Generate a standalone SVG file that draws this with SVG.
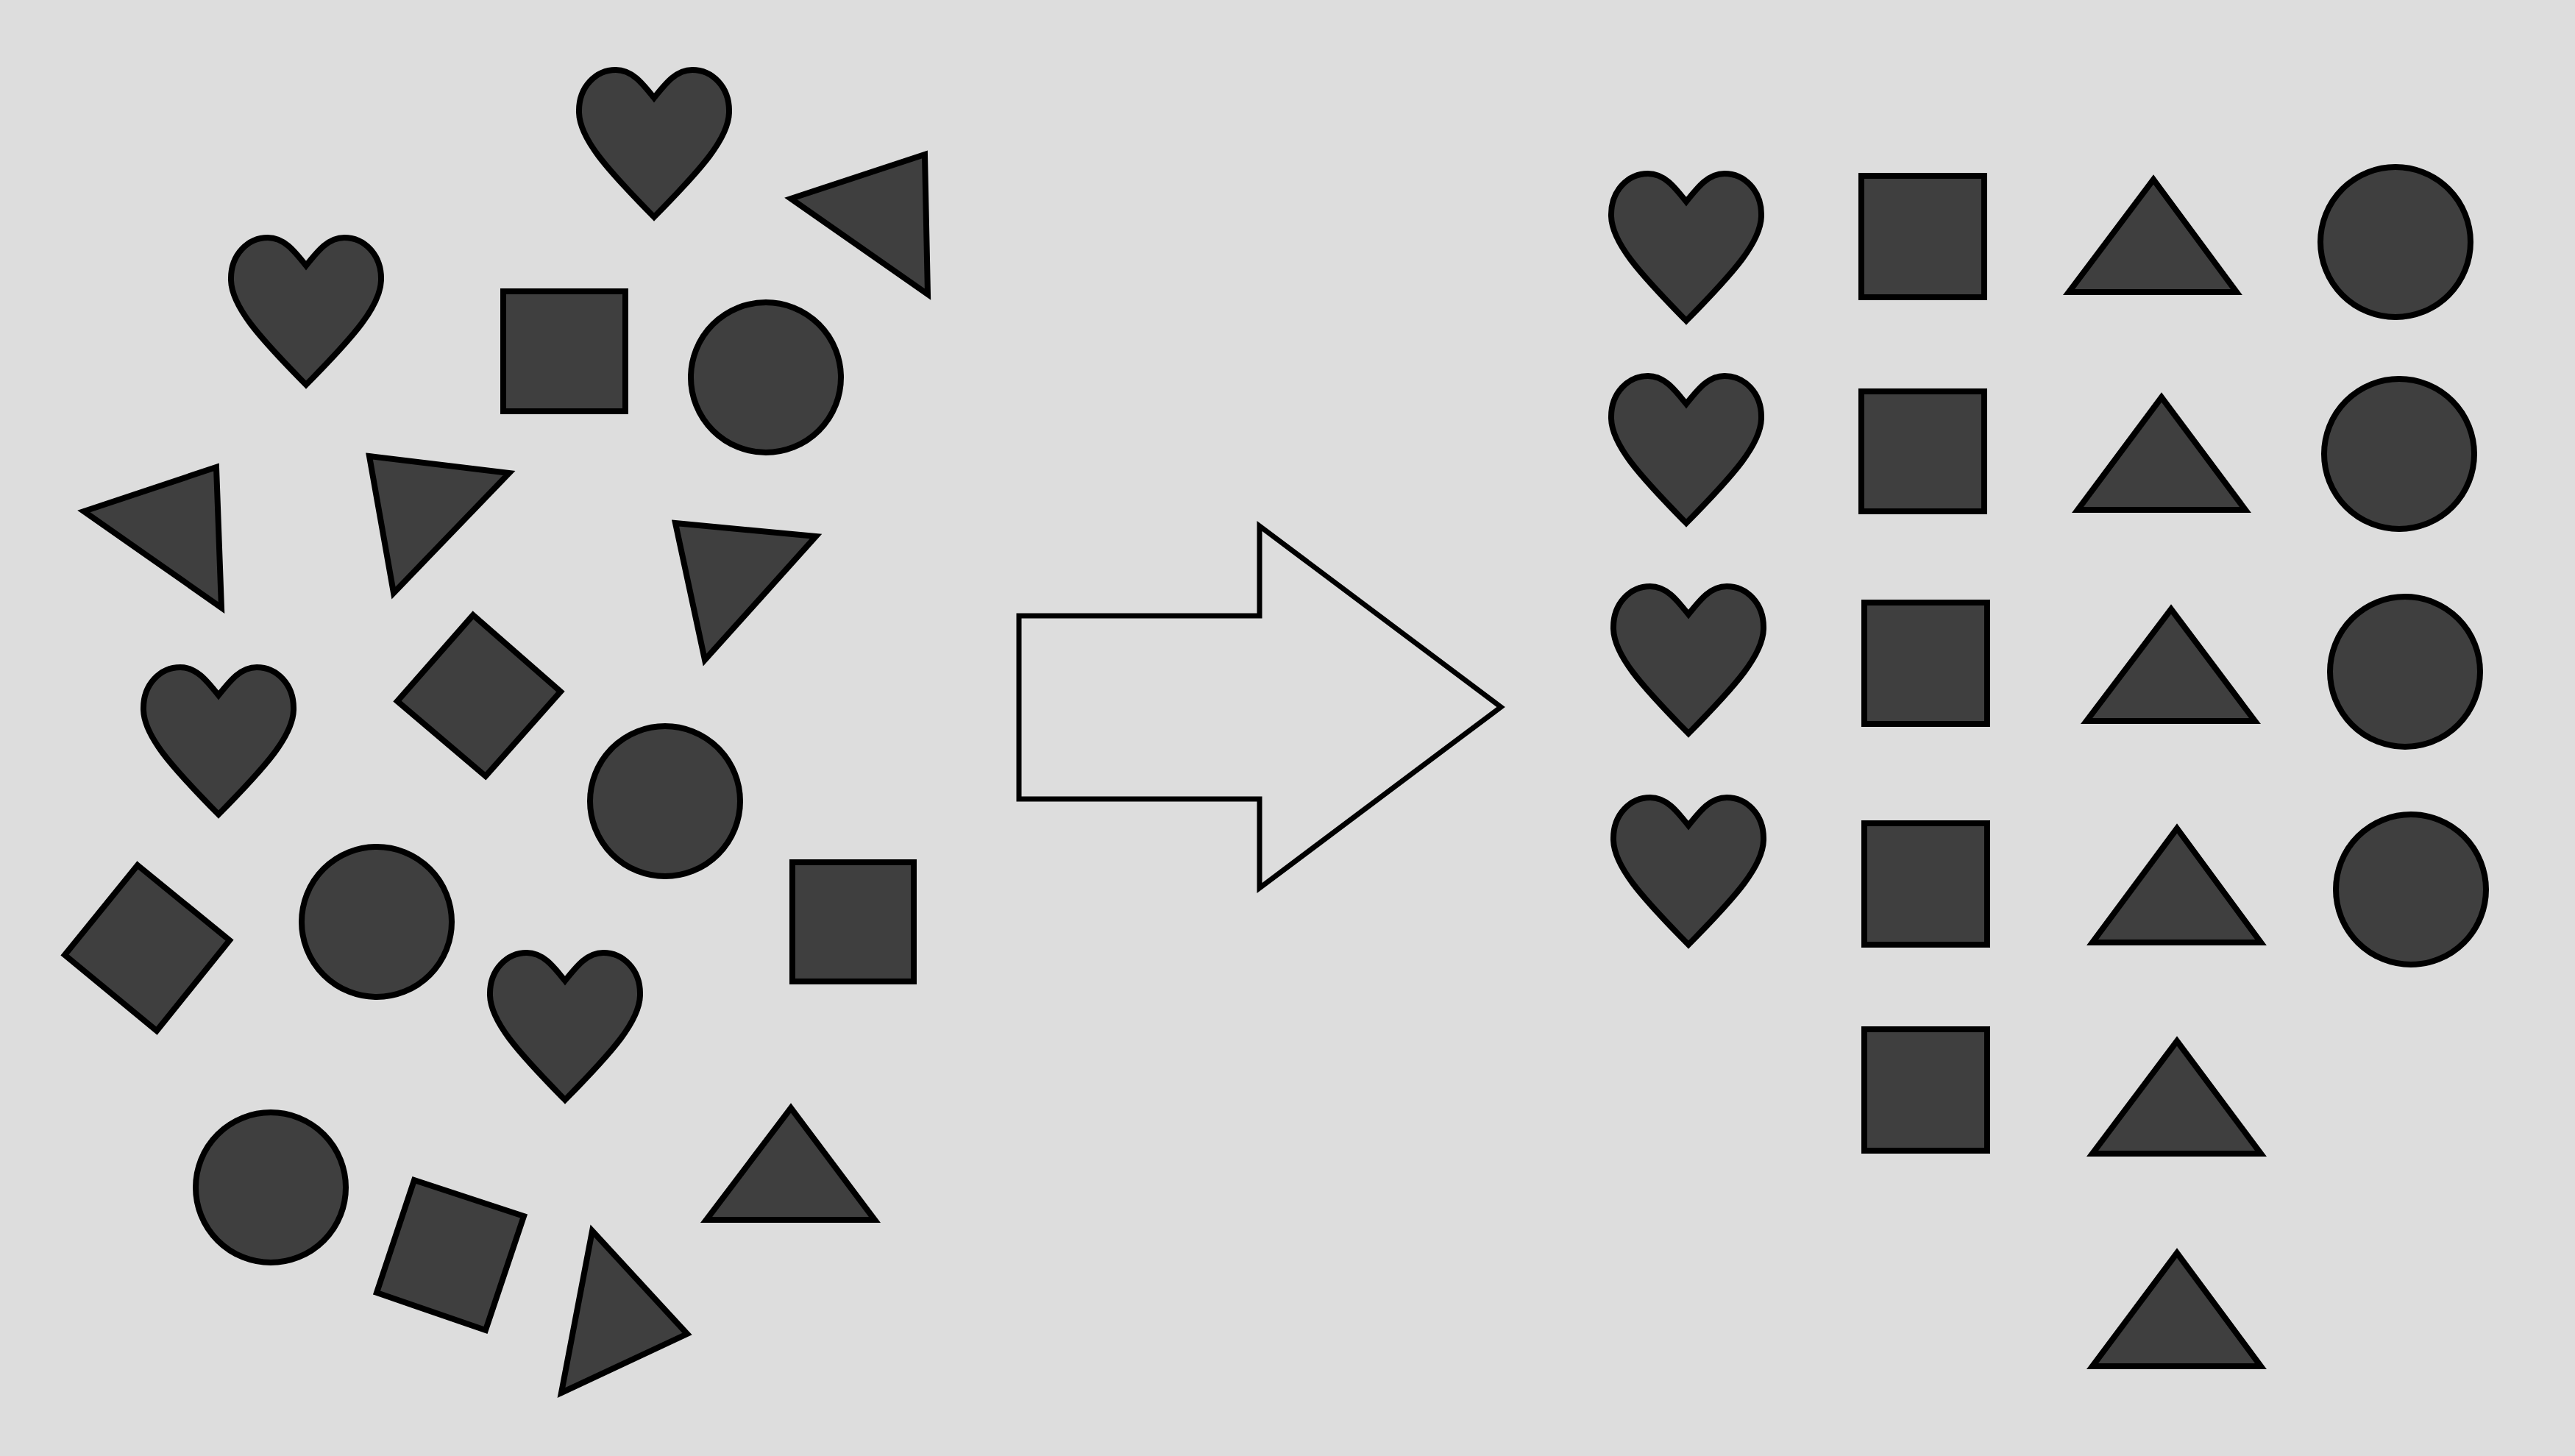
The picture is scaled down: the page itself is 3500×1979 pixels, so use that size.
<svg xmlns="http://www.w3.org/2000/svg" width="3500" height="1979" viewBox="0 0 3500 1979">
<style>
.s{fill:#3f3f3f;stroke:#000;stroke-width:8;stroke-linejoin:miter}
.a{fill:none;stroke:#000;stroke-width:7;stroke-linejoin:miter}
</style>
<defs>
<path id="heart" d="M0,42 C-16,22 -30,4 -52,4 C-78,4 -103,26 -102,62 C-101,97 -66,137 0,204 C66,137 101,97 102,62 C103,26 78,4 52,4 C30,4 16,22 0,42 Z"/>
</defs>
<rect width="3500" height="1979" fill="#dddddd"/>
<g id="left-shapes">
<g id="h1"><use href="#heart" class="s" transform="translate(889,91)"/></g>
<g id="h2"><use href="#heart" class="s" transform="translate(416,319)"/></g>
<g id="h3"><use href="#heart" class="s" transform="translate(297,903)"/></g>
<g id="h4"><use href="#heart" class="s" transform="translate(768,1291)"/></g>
<g id="s1"><rect class="s" x="684" y="396" width="166" height="163"/></g>
<g id="s2"><rect class="s" x="1077" y="1172" width="165" height="162"/></g>
<g id="d1"><polygon class="s" points="643,836 762,940 660,1055 540,953"/></g>
<g id="d2"><polygon class="s" points="187,1176 312,1278 213,1401 88,1298"/></g>
<g id="d3"><polygon class="s" points="563,1604 712,1653 660,1808 512,1757"/></g>
<g id="c1"><circle class="s" cx="1041" cy="513" r="102"/></g>
<g id="c2"><circle class="s" cx="904" cy="1089" r="102"/></g>
<g id="c3"><circle class="s" cx="512" cy="1253" r="102"/></g>
<g id="c4"><circle class="s" cx="368" cy="1614" r="102"/></g>
<g id="t1"><polygon class="s" points="1075,270 1257,210 1261,400"/></g>
<g id="t2"><polygon class="s" points="114,695 294,635 301,826"/></g>
<g id="t3"><polygon class="s" points="502,620 692,643 535,806"/></g>
<g id="t4"><polygon class="s" points="918,711 1109,729 958,897"/></g>
<g id="t5"><polygon class="s" points="1075,1506 960,1658 1189,1658"/></g>
<g id="t6"><polygon class="s" points="805,1673 934,1813 763,1893"/></g>
</g>
<g id="arrow"><path class="a" d="M1385,837 H1712 V715 L2040,961 L1712,1207 V1086 H1385 Z"/></g>
<g id="right-shapes">
<g id="rh1"><use href="#heart" class="s" transform="translate(2292,232)"/></g>
<g id="rh2"><use href="#heart" class="s" transform="translate(2292,507)"/></g>
<g id="rh3"><use href="#heart" class="s" transform="translate(2295,793)"/></g>
<g id="rh4"><use href="#heart" class="s" transform="translate(2295,1080)"/></g>
<g id="rs1"><rect class="s" x="2530" y="239" width="167" height="165"/></g>
<g id="rs2"><rect class="s" x="2530" y="532" width="167" height="163"/></g>
<g id="rs3"><rect class="s" x="2534" y="819" width="167" height="165"/></g>
<g id="rs4"><rect class="s" x="2534" y="1119" width="167" height="165"/></g>
<g id="rs5"><rect class="s" x="2534" y="1399" width="167" height="165"/></g>
<g id="rt1"><polygon class="s" points="2927,244 2812,397 3040,397"/></g>
<g id="rt2"><polygon class="s" points="2938,540 2824,693 3052,693"/></g>
<g id="rt3"><polygon class="s" points="2951,828 2836,980 3065,980"/></g>
<g id="rt4"><polygon class="s" points="2959,1126 2844,1281 3073,1281"/></g>
<g id="rt5"><polygon class="s" points="2959,1415 2844,1568 3073,1568"/></g>
<g id="rt6"><polygon class="s" points="2959,1703 2844,1857 3073,1857"/></g>
<g id="rc1"><circle class="s" cx="3256" cy="329" r="102"/></g>
<g id="rc2"><circle class="s" cx="3261" cy="617" r="102"/></g>
<g id="rc3"><circle class="s" cx="3269" cy="913" r="102"/></g>
<g id="rc4"><circle class="s" cx="3277" cy="1209" r="102"/></g>
</g>
</svg>
